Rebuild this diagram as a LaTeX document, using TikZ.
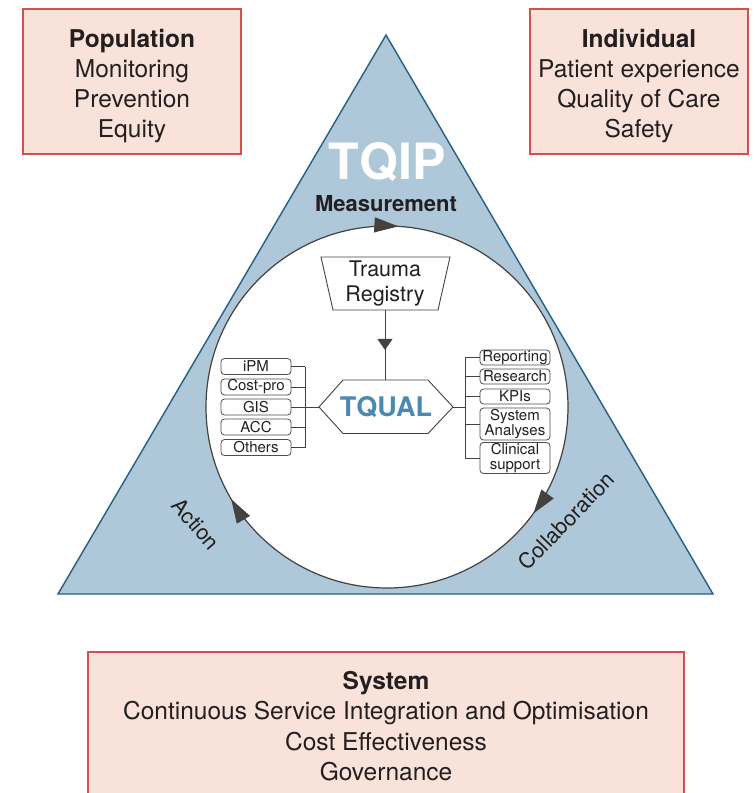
\documentclass[tikz,border=0pt]{standalone}
\usepackage{fontspec}
\setmainfont{TeX Gyre Heros}
\usetikzlibrary{arrows.meta,decorations.markings}
\definecolor{boxfill}{HTML}{F9E2D9}
\definecolor{boxline}{HTML}{D4504C}
\definecolor{trifill}{HTML}{AEC8D9}
\definecolor{triline}{HTML}{245F86}
\definecolor{txt}{HTML}{231F20}
\definecolor{qblue}{HTML}{4A8AB2}
\begin{document}
\begin{tikzpicture}[x=1pt,y=-1pt,
  bigbox/.style={draw=boxline, fill=boxfill, line width=1.1pt},
  boxtext/.style={align=center, text=txt, font=\fontsize{24.5}{30}\selectfont},
  smallbox/.style={draw=txt!80, fill=white, rounded corners=3.5pt, line width=0.8pt,
    minimum width=70pt, inner sep=0pt, align=center, text=txt,
    font=\fontsize{15}{14.5}\selectfont},
  link/.style={draw=txt!85, line width=0.9pt},
  shapeline/.style={draw=txt!85, line width=0.9pt, fill=white},
]
\useasboundingbox (0,0) rectangle (755,793);
\fill[white] (0,0) rectangle (755,793);

% boxes
\node[bigbox, minimum width=218pt, minimum height=145pt] (pop) at (132,81.5) {};
\node[boxtext] (popt) at (132,86) {\textbf{Population}\\Monitoring\\Prevention\\Equity};
\node[bigbox, minimum width=218pt, minimum height=145pt] (ind) at (639,81.5) {};
\node[boxtext] (indt) at (639,86) {\textbf{Individual}\\Patient experience\\Quality of Care\\Safety};
\node[bigbox, minimum width=596pt, minimum height=148pt] (sysb) at (386,726) {};
\node[boxtext, font=\fontsize{24.5}{30.5}\selectfont] (syst) at (386,726)
  {\textbf{System}\\Continuous Service Integration and Optimisation\\Cost Effectiveness\\Governance};

% triangle
\draw[fill=trifill, draw=triline, line width=1.4pt, line join=miter]
  (386,35) -- (713,594) -- (58,594) -- cycle;

% circle with clockwise arrows
\draw[fill=white, draw=txt!85, line width=1.2pt, postaction={decorate},
  decoration={markings,
    mark=at position 0.010 with {\arrow{Triangle[length=24pt,width=15pt]}},
    mark=at position 0.350 with {\arrow{Triangle[length=24pt,width=15pt]}},
    mark=at position 0.665 with {\arrow{Triangle[length=24pt,width=15pt]}}}]
  (387,407) ++(-90:181) arc[start angle=-90, end angle=270, radius=181];

% labels
\node[font=\bfseries\fontsize{50}{50}\selectfont, text=white] (tqip) at (387,162) {TQIP};
\node[font=\bfseries\fontsize{22}{22}\selectfont, text=txt] (meas) at (386,204) {Measurement};
\node[font=\fontsize{21.5}{21.5}\selectfont, text=txt, rotate=-49] (act) at (196,524) {Action};
\node[font=\fontsize{21.5}{21.5}\selectfont, text=txt, rotate=46] (col) at (566,521) {Collaboration};

% trauma registry
\draw[shapeline] (321,257) -- (450,257) -- (438,310) -- (333,310) -- cycle;
\node[font=\fontsize{21.5}{25}\selectfont, align=center, text=txt] (reg) at (385,284) {Trauma\\Registry};
\coordinate (regb) at (385,310);

% TQUAL hexagon
\draw[shapeline] (319,407) -- (343,380) -- (428,380) -- (453,407) -- (428,433.5) -- (343,433.5) -- cycle;
\node[font=\bfseries\fontsize{27}{27}\selectfont, text=qblue] (tq) at (386,407) {TQUAL};
\coordinate (hext) at (385,380);
\coordinate (hexl) at (319,407);
\coordinate (hexr) at (453,407);

\draw[link, postaction={decorate}, decoration={markings,
    mark=at position 0.571 with {\arrow{Triangle[length=11pt,width=15pt]}}}]
  (regb) -- (hext);

% left boxes
\node[smallbox, minimum height=16pt] (ipm) at (256,366.5) {iPM};
\node[smallbox, minimum height=16pt] (cost) at (256,387) {Cost-pro};
\node[smallbox, minimum height=16pt] (gis) at (256,407) {GIS};
\node[smallbox, minimum height=16pt] (acc) at (256,427) {ACC};
\node[smallbox, minimum height=16pt] (oth) at (256,447.5) {Others};
\coordinate (lbt) at (305,366.5);
\coordinate (lbb) at (305,447.5);
\draw[link] (lbt) -- (lbb);
\foreach \n in {ipm,cost,acc,oth} \draw[link] (\n.east) -- (\n.east -| lbt);
\draw[link] (gis.east) -- (hexl);

% right boxes
\node[smallbox, minimum height=15pt] (rep) at (515,357.5) {Reporting};
\node[smallbox, minimum height=15pt] (res) at (515,376.5) {Research};
\node[smallbox, minimum height=15pt] (kpi) at (515,396.5) {KPIs};
\node[smallbox, minimum height=32pt] (sysa) at (515,424) {System\\Analyses};
\node[smallbox, minimum height=31pt] (cli) at (515,458) {Clinical\\support};
\coordinate (rbt) at (465,357.5);
\coordinate (rbb) at (465,458);
\draw[link] (rbt) -- (rbb);
\foreach \n in {rep,res,kpi,sysa,cli} \draw[link] (\n.west -| rbt) -- (\n.west);
\draw[link] (hexr) -- (hexr -| rbt);
\end{tikzpicture}
\end{document}
